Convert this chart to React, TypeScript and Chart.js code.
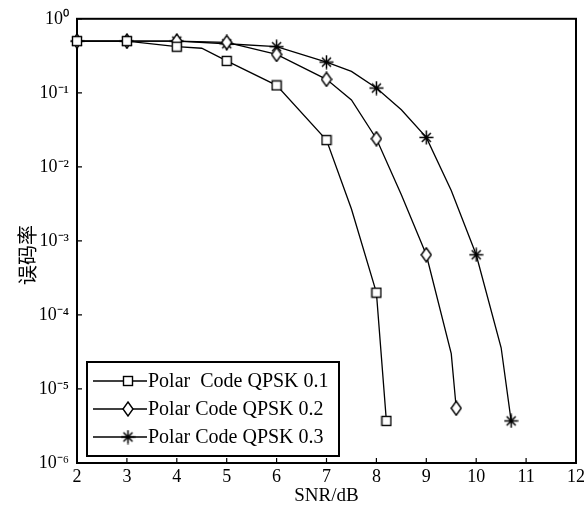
import React, { useEffect, useRef } from "react";
import { Chart, registerables } from "chart.js";

Chart.register(...registerables);

// ---- data ----
const xTicks = [2, 3, 4, 5, 6, 7, 8, 9, 10, 11, 12];
const yTicks = [1e-6, 1e-5, 1e-4, 1e-3, 1e-2, 1e-1, 1];
const yTickLabels = ["10⁻⁶", "10⁻⁵", "10⁻⁴", "10⁻³", "10⁻²", "10⁻¹", "10⁰"];
const seriesNames = ["Polar  Code QPSK 0.1", "Polar Code QPSK 0.2", "Polar Code QPSK 0.3"];
const xTitle = "SNR/dB";
const yTitle = "误码率";

const snr1 = [2, 3, 4, 4.5, 5, 6, 7, 7.5, 8, 8.2];
const ber1 = [0.5, 0.5, 0.42, 0.4, 0.27, 0.126, 0.023, 2.7e-3, 2.0e-4, 3.7e-6];
const snr2 = [2, 3, 4, 5, 6, 7, 7.5, 8, 8.5, 9, 9.5, 9.6];
const ber2 = [0.5, 0.5, 0.5, 0.48, 0.33, 0.152, 0.08, 0.024, 4.2e-3, 6.5e-4, 3.0e-5, 5.5e-6];
const snr3 = [2, 3, 4, 5, 6, 7, 7.5, 8, 8.5, 9, 9.5, 10, 10.5, 10.7];
const ber3 = [0.5, 0.5, 0.5, 0.46, 0.42, 0.26, 0.195, 0.116, 0.059, 0.025, 4.8e-3, 6.5e-4, 3.6e-5, 3.7e-6];

const SERIF = '"Liberation Serif", "Times New Roman", serif';

function makeSquare(): HTMLCanvasElement {
  const c = document.createElement("canvas");
  c.width = 12;
  c.height = 12;
  const g = c.getContext("2d")!;
  g.fillStyle = "#fff";
  g.fillRect(1, 1, 10, 10);
  g.strokeStyle = "#000";
  g.lineWidth = 1.4;
  g.strokeRect(1.5, 1.5, 9, 9);
  return c;
}

function makeDiamond(): HTMLCanvasElement {
  const c = document.createElement("canvas");
  c.width = 12;
  c.height = 16;
  const g = c.getContext("2d")!;
  g.beginPath();
  g.moveTo(6, 1);
  g.lineTo(11, 8);
  g.lineTo(6, 15);
  g.lineTo(1, 8);
  g.closePath();
  g.fillStyle = "#fff";
  g.fill();
  g.strokeStyle = "#000";
  g.lineWidth = 1.4;
  g.stroke();
  return c;
}

function makeStar(): HTMLCanvasElement {
  const c = document.createElement("canvas");
  c.width = 15;
  c.height = 15;
  const g = c.getContext("2d")!;
  g.strokeStyle = "#000";
  g.lineWidth = 1.5;
  g.beginPath();
  g.moveTo(7.5, 0.5);
  g.lineTo(7.5, 14.5);
  g.moveTo(0.5, 7.5);
  g.lineTo(14.5, 7.5);
  g.moveTo(3, 3);
  g.lineTo(12, 12);
  g.moveTo(12, 3);
  g.lineTo(3, 12);
  g.stroke();
  return c;
}

const isMarker = (arr: number[], i: number) => Number.isInteger(arr[i]) || i === arr.length - 1;

export default function App() {
  const ref = useRef<HTMLCanvasElement>(null);

  useEffect(() => {
    const markers = [makeSquare(), makeDiamond(), makeStar()];
    const xs = [snr1, snr2, snr3];
    const ys = [ber1, ber2, ber3];

    const framePlugin = {
      id: "frameAndLegend",
      beforeDatasetsDraw(chart: any) {
        const { ctx, chartArea: a, scales } = chart;
        ctx.save();
        ctx.strokeStyle = "#000";
        ctx.lineWidth = 1.2;
        ctx.beginPath();
        xTicks.forEach((v) => {
          const px = scales.x.getPixelForValue(v);
          ctx.moveTo(px, a.bottom);
          ctx.lineTo(px, a.bottom - 5);
        });
        yTicks.forEach((v) => {
          const py = scales.y.getPixelForValue(v);
          ctx.moveTo(a.left, py);
          ctx.lineTo(a.left + 5, py);
        });
        ctx.stroke();
        ctx.lineWidth = 2;
        ctx.strokeRect(a.left, a.top, a.right - a.left, a.bottom - a.top);
        ctx.restore();
      },
      afterDraw(chart: any) {
        const { ctx } = chart;
        ctx.save();
        // legend
        const bx = 87, by = 362, bw = 252, bh = 94;
        ctx.fillStyle = "#fff";
        ctx.fillRect(bx, by, bw, bh);
        ctx.strokeStyle = "#000";
        ctx.lineWidth = 2;
        ctx.strokeRect(bx, by, bw, bh);
        const rows = [381, 409, 437];
        seriesNames.forEach((name, i) => {
          const y = rows[i];
          ctx.lineWidth = 1.3;
          ctx.beginPath();
          ctx.moveTo(93, y);
          ctx.lineTo(147, y);
          ctx.stroke();
          const m = markers[i];
          ctx.drawImage(m, 128 - m.width / 2, y - m.height / 2);
          ctx.fillStyle = "#000";
          ctx.font = `20px ${SERIF}`;
          ctx.textAlign = "left";
          ctx.textBaseline = "middle";
          ctx.fillText(name, 148, y + 1);
        });
        // y axis title
        ctx.translate(27, 255);
        ctx.rotate(-Math.PI / 2);
        ctx.font = '20px "Noto Sans CJK SC"';
        ctx.textAlign = "center";
        ctx.textBaseline = "middle";
        ctx.fillStyle = "#000";
        ctx.fillText(yTitle, 0, 0);
        ctx.restore();
      },
    };

    const chart = new Chart(ref.current!, {
      type: "line",
      data: {
        datasets: seriesNames.map((name, k) => ({
          label: name,
          data: xs[k].map((x, i) => ({ x, y: ys[k][i] })),
          borderColor: "#000",
          borderWidth: 1.3,
          pointStyle: markers[k] as any,
          pointRadius: (c: any) => (isMarker(xs[k], c.dataIndex) ? 6 : 0),
          pointHoverRadius: 0,
          tension: 0,
          fill: false,
          clip: false as any,
        })),
      },
      options: {
        animation: false,
        responsive: true,
        maintainAspectRatio: false,
        events: [],
        layout: { padding: { top: 15, right: 11, left: 0, bottom: 0 } },
        plugins: { legend: { display: false }, tooltip: { enabled: false } },
        scales: {
          x: {
            type: "linear",
            min: 2,
            max: 12,
            grid: { display: false, drawTicks: false },
            border: { display: false },
            afterBuildTicks: (s: any) => {
              s.ticks = xTicks.map((v) => ({ value: v }));
            },
            afterFit: (s: any) => {
              s.height = 43;
            },
            ticks: {
              color: "#000",
              padding: 3,
              font: { family: SERIF, size: 18 },
              maxRotation: 0,
              autoSkip: false,
            },
            title: {
              display: true,
              text: xTitle,
              color: "#000",
              font: { family: SERIF, size: 19, lineHeight: 1.1 },
              padding: { top: 0, bottom: 0 },
            },
          },
          y: {
            type: "logarithmic",
            min: 1e-6,
            max: 1,
            grid: { display: false, drawTicks: false },
            border: { display: false },
            afterBuildTicks: (s: any) => {
              s.ticks = yTicks.map((v) => ({ value: v }));
            },
            afterFit: (s: any) => {
              s.width = 77;
            },
            ticks: {
              color: "#000",
              padding: 8,
              font: { family: SERIF, size: 18 },
              autoSkip: false,
              callback: (v: any) => {
                const idx = yTicks.findIndex((t) => Math.abs(Math.log10(t) - Math.log10(v)) < 1e-6);
                return idx >= 0 ? yTickLabels[idx] : "";
              },
            },
          },
        },
      },
      plugins: [framePlugin],
    });
    return () => chart.destroy();
  }, []);

  return (
    <div style={{ position: "absolute", left: 0, top: 0, width: 588, height: 506, background: "#fff" }}>
      <canvas ref={ref} />
    </div>
  );
}
